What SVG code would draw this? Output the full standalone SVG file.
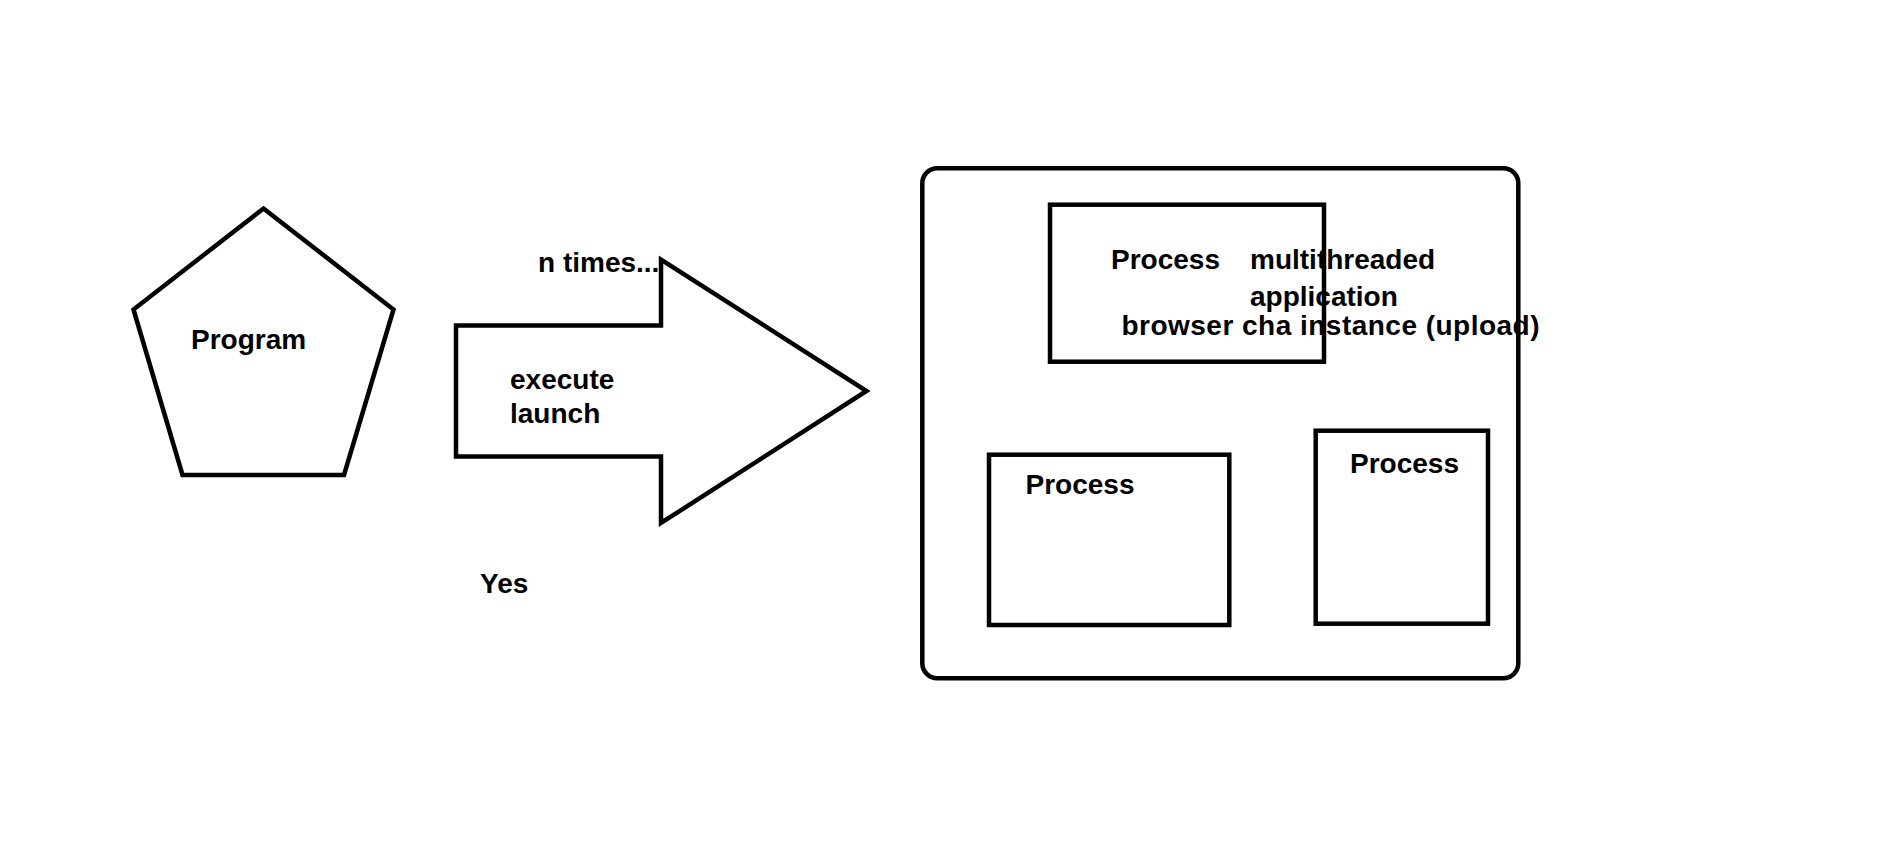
<svg xmlns="http://www.w3.org/2000/svg" width="1879" height="848" viewBox="0 0 1879 848">
  <style>
    .shape { fill: none; stroke: #000; stroke-width: 4.5; stroke-linejoin: miter; }
    .lbl { font-family: "Liberation Sans", Arial, sans-serif; font-weight: bold; font-size: 28px; fill: #000; }
  </style>
  <rect x="0" y="0" width="1879" height="848" fill="#fff"/>
  <g id="program">
    <text class="lbl" x="191" y="349">Program</text>
    <polygon class="shape" points="263.5,208.5 393.5,309.5 344,475 182.5,475 133.5,309.5"/>
  </g>
  <g id="launch-arrow">
    <text class="lbl" x="538" y="272">n times...</text>
    <text class="lbl" x="510" y="389">execute</text>
    <text class="lbl" x="510" y="423">launch</text>
    <polygon class="shape" points="456,325.5 661,325.5 661,259.5 866.5,391 661,523 661,456.5 456,456.5"/>
  </g>
  <g id="yes-label">
    <text class="lbl" x="480" y="593">Yes</text>
  </g>
  <g id="container">
    <rect class="shape" x="922.3" y="168.3" width="596" height="510" rx="15" ry="15"/>
  </g>
  <g id="process-top">
    <text class="lbl" x="1111" y="269">Process</text>
    <text class="lbl" x="1250" y="269">multithreaded</text>
    <text class="lbl" x="1250" y="306">application</text>
    <text class="lbl" x="1121.5" y="335" textLength="418" lengthAdjust="spacing">browser cha instance (upload)</text>
    <rect class="shape" x="1050" y="204.7" width="274" height="157"/>
  </g>
  <g id="process-left">
    <text class="lbl" x="1025.5" y="493.5">Process</text>
    <rect class="shape" x="989" y="454.7" width="240.3" height="170.3"/>
  </g>
  <g id="process-right">
    <text class="lbl" x="1350" y="472.5">Process</text>
    <rect class="shape" x="1315.7" y="430.7" width="172.3" height="193"/>
  </g>
  <g id="connectors"></g>
</svg>
